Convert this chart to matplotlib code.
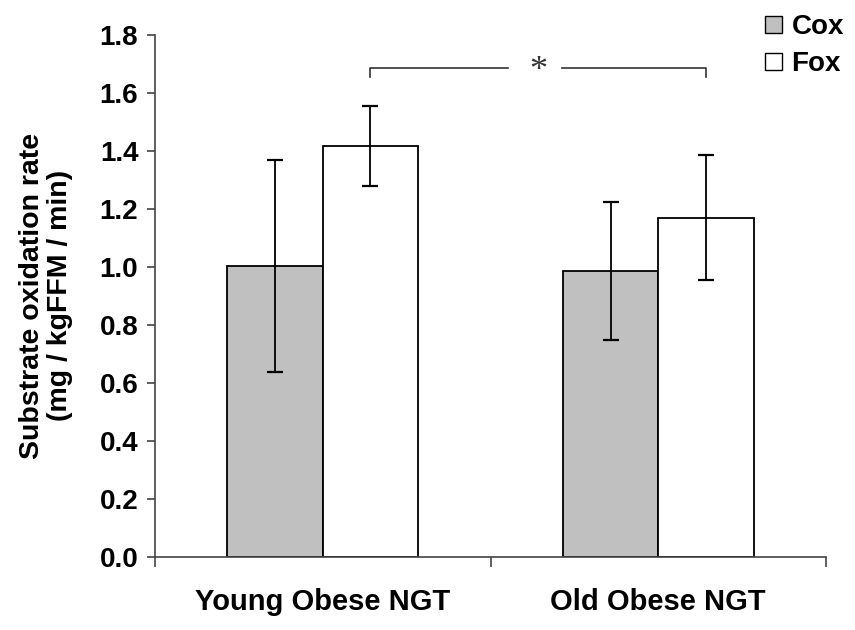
import matplotlib
matplotlib.use('Agg')
import matplotlib.pyplot as plt
from matplotlib.patches import Patch
import numpy as np

# Data
groups = ['Young Obese NGT', 'Old Obese NGT']
cox = [1.003, 0.986]
cox_err = [0.364, 0.237]
fox = [1.416, 1.170]
fox_err = [0.139, 0.217]
series_names = ['Cox', 'Fox']
y_ticks = [0.0, 0.2, 0.4, 0.6, 0.8, 1.0, 1.2, 1.4, 1.6, 1.8]

plt.rcParams['font.family'] = ['Liberation Sans', 'DejaVu Sans']
plt.rcParams['font.weight'] = 'bold'

fig = plt.figure(figsize=(8.55, 6.3), dpi=100)
ax = fig.add_axes([155 / 855, 1 - 557 / 630, (826 - 155) / 855, (557 - 34.7) / 630])

x = np.arange(len(groups))
w = 0.284
err_kw = dict(ecolor='black', elinewidth=1.3, capsize=6, capthick=1.6)
ax.bar(x - w / 2, cox, w, color='#c0c0c0', edgecolor='black', linewidth=1.3,
       yerr=cox_err, error_kw=err_kw, zorder=2)
ax.bar(x + w / 2, fox, w, color='white', edgecolor='black', linewidth=1.3,
       yerr=fox_err, error_kw=err_kw, zorder=2)

# Axis styling
ax.set_xlim(-0.5, 1.5)
ax.set_ylim(0, 1.8)
ax.set_yticks(y_ticks)
ax.set_yticklabels([f'{t:.1f}' for t in y_ticks], fontsize=20, fontweight='bold')
ax.set_xticks(x)
ax.set_xticklabels(groups, fontsize=21, fontweight='bold')
ax.set_xticks([-0.5, 0.5, 1.5], minor=True)
ax.tick_params(axis='x', which='major', length=0, pad=22)
ax.tick_params(axis='x', which='minor', length=7, width=1.2, color='#444444', direction='out')
ax.tick_params(axis='y', length=6, width=1.2, color='#444444', direction='out', pad=6)
for s in ['top', 'right']:
    ax.spines[s].set_visible(False)
for s in ['left', 'bottom']:
    ax.spines[s].set_color('#444444')
    ax.spines[s].set_linewidth(1.2)

ax.set_ylabel('Substrate oxidation rate\n(mg / kgFFM / min)', fontsize=20.5,
              fontweight='bold', labelpad=19, linespacing=1.1)

# Significance bracket between Fox bars
y_br = 1.685
x0, x1 = x[0] + w / 2, x[1] + w / 2
ax.plot([x0, x0, 0.553], [y_br - 0.03, y_br, y_br], color='#333333', lw=1.2, clip_on=False)
ax.plot([0.714, x1, x1], [y_br, y_br, y_br - 0.03], color='#333333', lw=1.2, clip_on=False)
ax.text(0.642, y_br - 0.012, '*', ha='center', va='center', fontsize=26,
        fontweight='normal', family='Liberation Serif', color='#333333')

# Legend
handles = [Patch(facecolor='#c0c0c0', edgecolor='black', linewidth=1.0),
           Patch(facecolor='white', edgecolor='black', linewidth=1.0)]
fig.legend(handles, series_names, loc='upper right', bbox_to_anchor=(1.0, 0.995),
           frameon=False, fontsize=20, handlelength=0.6, handleheight=0.6,
           handletextpad=0.35, labelspacing=0.4, borderaxespad=0.0)

fig.savefig('out.png', dpi=100)
